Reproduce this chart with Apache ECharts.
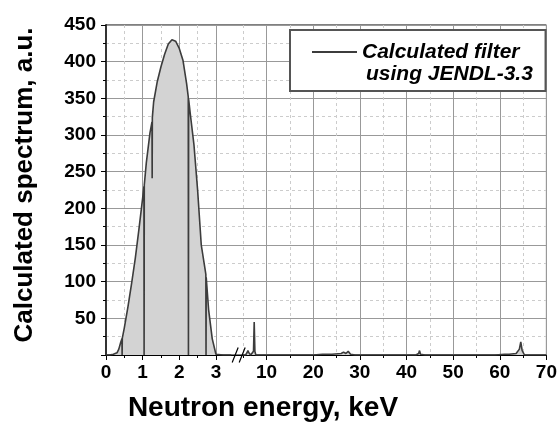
<!DOCTYPE html>
<html>
<head>
<meta charset="utf-8">
<script src="https://cdn.jsdelivr.net/npm/echarts@6/dist/echarts.min.js"></script>
<style>
html,body{margin:0;padding:0;background:#fff}
#chart{width:560px;height:426px}
</style>
</head>
<body>
<div id="chart"></div>
<script>
// spectrum below the axis break (keV, a.u.)
var lowEnergy = [0, 0.1, 0.2, 0.3, 0.35, 0.4, 0.435, 0.44, 0.445, 0.5, 0.6, 0.7, 0.8, 0.9, 1.0,
    1.035, 1.04, 1.045, 1.1, 1.2, 1.255, 1.26, 1.265, 1.3, 1.4, 1.5, 1.6, 1.7, 1.8, 1.85, 1.9,
    2.0, 2.1, 2.2, 2.245, 2.25, 2.255, 2.3, 2.4, 2.5, 2.6, 2.7, 2.725, 2.73, 2.735, 2.8, 2.9,
    3.0, 3.2, 3.42];
var lowCounts = [0, 0, 1, 3, 8, 17, 22, 0, 23, 37, 66, 98, 132, 172, 214,
    230, 0, 232, 262, 303, 318, 241, 324, 345, 373, 393, 410, 424, 430, 430, 428,
    418, 402, 370, 352, 0, 349, 329, 287, 225, 150, 118, 110, 0, 106, 62, 22,
    1, 0, 0];
// spectrum above the break
var highEnergy = [4.8, 5.5, 5.8, 6.0, 6.2, 6.4, 6.6, 7.0, 7.2, 7.35, 7.5, 7.7, 20, 22, 24, 26,
    26.5, 27, 27.5, 28, 29, 42, 42.6, 42.8, 43, 44, 59, 61, 62, 63.5, 64.2, 64.5, 64.8, 65.3, 70];
var highCounts = [0, 0, 3, 6, 3, 1, 0, 0, 5, 45, 5, 0, 0, 1, 1, 2,
    4, 2, 5, 1, 0, 0, 2, 6, 1, 0, 0, 1, 1, 2, 8, 18, 6, 0, 0];

var majorTicks = [0, 1, 2, 3, 10, 20, 30, 40, 50, 60, 70];
var minorTicks = [0.5, 1.5, 2.5, 5, 15, 25, 35, 45, 55, 65];
var seriesName = 'Calculated filter';
var seriesNote = 'using JENDL-3.3';

// broken axis: 0-3.5 keV linear, then 5-70 keV on a compressed scale
var BREAK = 3.5, U10 = 4.382, K = 0.1273;
function toU(e){
    return e <= BREAK ? e : U10 + (e - 10) * K;
}
function toE(u){
    return u <= BREAK + 0.01 ? u : 10 + (u - U10) / K;
}

var FONT = '"Liberation Sans", Arial, sans-serif';
var data = [];
lowEnergy.forEach(function(e, i){ data.push([toU(e), lowCounts[i]]); });
data.push([toU(3.6), '-']);
highEnergy.forEach(function(e, i){ data.push([toU(e), highCounts[i]]); });

var chart = echarts.init(document.getElementById('chart'));
var xMax = toU(70);
chart.setOption({
    animation: false,
    grid: {left: 106, right: 13, top: 25, bottom: 71, show: true, borderColor: '#000', borderWidth: 1},
    legend: {
        left: 290, top: 30, data: [{name: seriesName, icon: 'rect'}],
        backgroundColor: '#fff', borderColor: '#555', borderWidth: 2,
        padding: [10, 26, 27, 22], itemWidth: 45, itemHeight: 2,
        itemStyle: {color: '#3c3c3c'},
        textStyle: {fontFamily: FONT, fontSize: 21, fontStyle: 'italic', fontWeight: 'bold', color: '#000', lineHeight: 24}
    },
    xAxis: [{
        type: 'value', min: 0, max: xMax, position: 'bottom',
        axisLine: {lineStyle: {color: '#000', width: 1}},
        axisTick: {customValues: majorTicks.map(toU), length: 5, lineStyle: {color: '#000'}},
        axisLabel: {
            customValues: majorTicks.map(toU), margin: 8,
            fontFamily: FONT, fontSize: 19, fontWeight: 'bold', color: '#000',
            formatter: function(v){ return Math.round(toE(v)); }
        },
        splitLine: {show: true, lineStyle: {color: '#999', width: 1}}
    }, {
        type: 'value', min: 0, max: xMax, position: 'bottom',
        axisLine: {show: false},
        axisTick: {customValues: minorTicks.map(toU), length: 3, lineStyle: {color: '#000'}},
        axisLabel: {show: false, customValues: minorTicks.map(toU)},
        splitLine: {show: true, lineStyle: {color: '#ccc', type: [3, 3], width: 1}}
    }],
    yAxis: [{
        type: 'value', min: 0, max: 450, interval: 50,
        name: 'Calculated spectrum, a.u.', nameLocation: 'middle', nameGap: 68,
        nameTextStyle: {fontFamily: FONT, fontSize: 26, fontWeight: 'bold', color: '#000', padding: [0, 0, 0, 10]},
        axisLine: {show: true, lineStyle: {color: '#000', width: 1}},
        axisTick: {show: true, length: 5, lineStyle: {color: '#000'}},
        minorTick: {show: true, splitNumber: 2, length: 3, lineStyle: {color: '#000'}},
        axisLabel: {
            margin: 10, fontFamily: FONT, fontSize: 19, fontWeight: 'bold', color: '#000',
            formatter: function(v){ return v === 0 ? '' : v; }
        },
        splitLine: {show: true, lineStyle: {color: '#999', width: 1}},
        minorSplitLine: {show: true, lineStyle: {color: '#ccc', type: [3, 3], width: 1}}
    }, {
        type: 'value', min: 0, max: 450, position: 'right',
        axisLine: {show: true, lineStyle: {color: '#333', width: 2}},
        axisTick: {show: false}, axisLabel: {show: false}, splitLine: {show: false}
    }],
    graphic: [{
        type: 'text', x: 366, y: 74, z: 100,
        style: {text: seriesNote, font: 'italic bold 21px ' + FONT, fill: '#000', verticalAlign: 'middle'}
    }, {
        type: 'text', x: 263, y: 408, z: 100,
        style: {text: 'Neutron energy, keV', font: 'bold 28px ' + FONT, fill: '#000', align: 'center', verticalAlign: 'middle'}
    }],
    series: [{
        name: seriesName, type: 'line', symbol: 'none', data: data,
        connectNulls: false,
        lineStyle: {color: '#3c3c3c', width: 1.6},
        itemStyle: {color: '#3c3c3c'},
        areaStyle: {color: '#d3d3d3', opacity: 1},
        markPoint: {
            silent: true,
            symbol: 'path://M0,16 L6,0 M7,16 L13,0',
            symbolSize: [13, 15],
            itemStyle: {color: 'none', borderColor: '#000', borderWidth: 1.3},
            label: {show: false},
            data: [{coord: [toU(3.55) + 0.06, 0]}]
        }
    }]
});
</script>
</body>
</html>
